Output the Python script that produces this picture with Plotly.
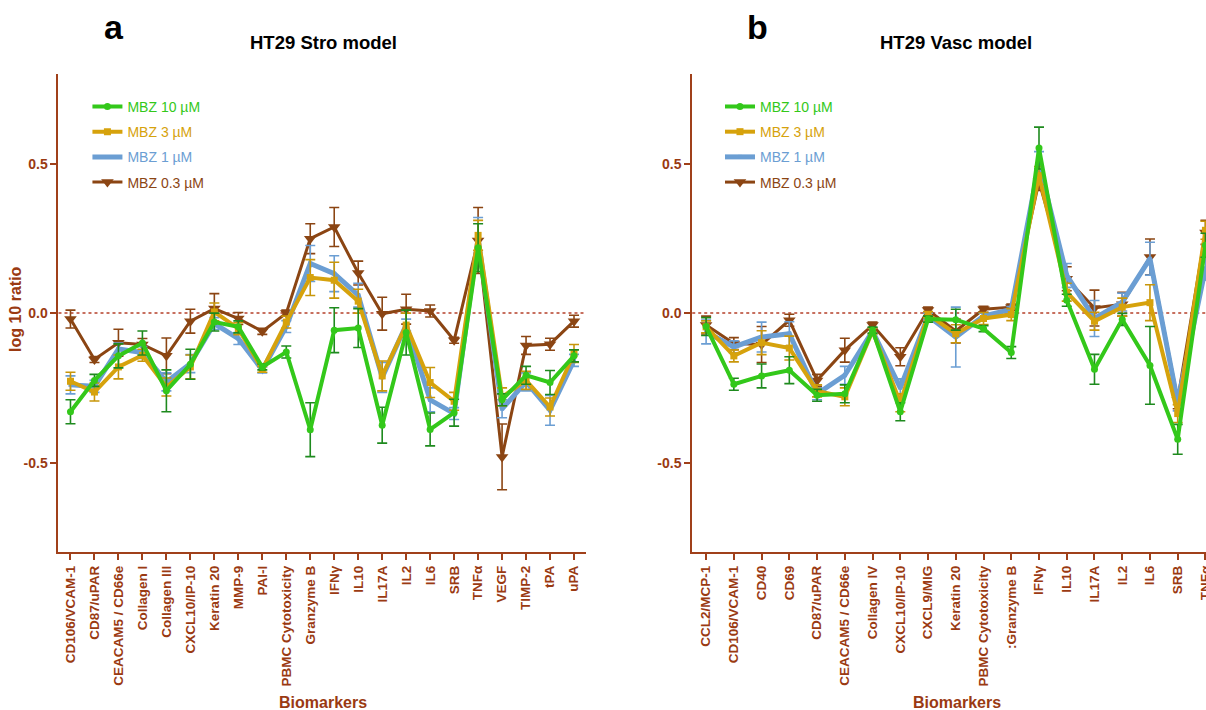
import plotly.graph_objects as go

# ---------------- data ----------------
stro_cats = ["CD106/VCAM-1", "CD87/uPAR", "CEACAM5 / CD66e", "Collagen I", "Collagen III",
             "CXCL10/IP-10", "Keratin 20", "MMP-9", "PAI-I", "PBMC Cytotoxicity", "Granzyme B",
             "IFNγ", "IL10", "IL17A", "IL2", "IL6", "SRB", "TNFα", "VEGF", "TIMP-2", "tPA", "uPA"]

stro_10 = [-0.33, -0.225, -0.143, -0.10, -0.26, -0.171, -0.03, -0.046, -0.18, -0.13, -0.39,
           -0.057, -0.05, -0.375, -0.065, -0.389, -0.333, 0.219, -0.29, -0.208, -0.232, -0.143]
stro_3 = [-0.228, -0.264, -0.18, -0.141, -0.247, -0.18, 0.004, -0.052, -0.188, -0.03, 0.119,
          0.11, 0.04, -0.21, -0.04, -0.232, -0.295, 0.26, -0.28, -0.225, -0.314, -0.135]
stro_1 = [-0.24, -0.245, -0.12, -0.132, -0.23, -0.169, -0.035, -0.085, -0.19, -0.045, 0.166,
          0.132, 0.06, -0.215, -0.04, -0.29, -0.336, 0.25, -0.32, -0.23, -0.325, -0.158]
stro_03 = [-0.02, -0.155, -0.099, -0.105, -0.143, -0.027, 0.015, -0.018, -0.061, 0.0, 0.249,
           0.288, 0.134, -0.002, 0.013, 0.007, -0.091, 0.243, -0.481, -0.108, -0.104, -0.027]

stro_10_err = [0.04, 0.02, 0.04, 0.04, 0.07, 0.05, 0.03, 0.02, 0.01, 0.02, 0.09,
               0.075, 0.065, 0.06, 0.075, 0.055, 0.045, 0.08, 0.02, 0.03, 0.04, 0.02]
stro_3_err = [0.03, 0.03, 0.04, 0.02, 0.03, 0.04, 0.03, 0.02, 0.01, 0.02, 0.06,
              0.06, 0.04, 0.05, 0.04, 0.05, 0.03, 0.05, 0.03, 0.03, 0.03, 0.03]
stro_1_err = [0.03, 0.02, 0.02, 0.02, 0.03, 0.03, 0.02, 0.02, 0.01, 0.02, 0.06,
              0.06, 0.04, 0.05, 0.02, 0.04, 0.02, 0.07, 0.03, 0.03, 0.05, 0.02]
stro_03_err = [0.03, 0.01, 0.045, 0.02, 0.06, 0.04, 0.05, 0.02, 0.01, 0.01, 0.05,
               0.065, 0.04, 0.055, 0.05, 0.02, 0.01, 0.11, 0.11, 0.03, 0.02, 0.02]

vasc_cats = ["CCL2/MCP-1", "CD106/VCAM-1", "CD40", "CD69", "CD87/uPAR", "CEACAM5 / CD66e",
             "Collagen IV", "CXCL10/IP-10", "CXCL9/MIG", "Keratin 20", "PBMC Cytotoxicity",
             ":Granzyme B", "IFNγ", "IL10", "IL17A", "IL2", "IL6", "SRB", "TNFα"]

vasc_10 = [-0.045, -0.238, -0.21, -0.191, -0.275, -0.27, -0.057, -0.33, -0.02, -0.022, -0.052,
           -0.132, 0.552, 0.043, -0.188, -0.021, -0.175, -0.422, 0.227]
vasc_3 = [-0.046, -0.143, -0.099, -0.117, -0.26, -0.28, -0.06, -0.30, -0.005, -0.069, -0.018,
          -0.005, 0.46, 0.07, -0.027, 0.02, 0.035, -0.336, 0.277]
vasc_1 = [-0.063, -0.113, -0.08, -0.069, -0.27, -0.208, -0.06, -0.25, -0.01, -0.08, -0.01,
          0.012, 0.50, 0.126, -0.018, 0.037, 0.182, -0.297, 0.15]
vasc_03 = [-0.04, -0.102, -0.105, -0.024, -0.225, -0.124, -0.04, -0.146, 0.01, -0.06, 0.013,
           0.02, 0.44, 0.115, 0.017, 0.03, 0.188, -0.29, 0.27]

vasc_10_err = [0.03, 0.02, 0.04, 0.045, 0.02, 0.03, 0.01, 0.03, 0.01, 0.035, 0.01,
               0.02, 0.07, 0.02, 0.05, 0.02, 0.13, 0.05, 0.04]
vasc_3_err = [0.02, 0.02, 0.04, 0.04, 0.02, 0.03, 0.01, 0.03, 0.01, 0.03, 0.02,
              0.02, 0.03, 0.03, 0.03, 0.03, 0.06, 0.03, 0.03]
vasc_1_err = [0.04, 0.02, 0.05, 0.04, 0.02, 0.03, 0.01, 0.03, 0.01, 0.1, 0.01,
              0.01, 0.04, 0.04, 0.06, 0.03, 0.055, 0.03, 0.04]
vasc_03_err = [0.03, 0.02, 0.06, 0.02, 0.02, 0.04, 0.01, 0.03, 0.01, 0.04, 0.01,
               0.01, 0.03, 0.04, 0.06, 0.04, 0.06, 0.03, 0.04]

series_names = ["MBZ 10 µM", "MBZ 3 µM", "MBZ 1 µM", "MBZ 0.3 µM"]
ytick_vals = [-0.5, 0.0, 0.5]
ytick_text = ["-0.5", "0.0", "0.5"]

# ---------------- styles ----------------
AX = "#A0401A"
TXT = "#9A3A12"
FONT = "Liberation Sans, Arial, sans-serif"
styles = {
    "MBZ 10 µM": dict(color="#33C81A", err="#1E8A1E", width=4, symbol="circle", size=7),
    "MBZ 3 µM": dict(color="#D6A20C", err="#C8960A", width=4, symbol="square", size=7),
    "MBZ 1 µM": dict(color="#6B9ED3", err="#6B9ED3", width=5, symbol="square", size=4),
    "MBZ 0.3 µM": dict(color="#8B4513", err="#8B4513", width=3, symbol="triangle-down", size=11),
}

fig = go.Figure()

panels = [
    ("x", "y", "legend", stro_cats,
     {"MBZ 10 µM": (stro_10, stro_10_err), "MBZ 3 µM": (stro_3, stro_3_err),
      "MBZ 1 µM": (stro_1, stro_1_err), "MBZ 0.3 µM": (stro_03, stro_03_err)}),
    ("x2", "y2", "legend2", vasc_cats,
     {"MBZ 10 µM": (vasc_10, vasc_10_err), "MBZ 3 µM": (vasc_3, vasc_3_err),
      "MBZ 1 µM": (vasc_1, vasc_1_err), "MBZ 0.3 µM": (vasc_03, vasc_03_err)}),
]

draw_order = ["MBZ 0.3 µM", "MBZ 1 µM", "MBZ 3 µM", "MBZ 10 µM"]
for xa, ya, lg, cats, data in panels:
    for name in draw_order:
        vals, errs = data[name]
        st = styles[name]
        fig.add_trace(go.Scatter(
            x=cats, y=vals, xaxis=xa, yaxis=ya, legend=lg,
            name=f"<span style='color:{st['color']}'>{name}</span>",
            legendgroup=name + lg,
            legendrank=series_names.index(name) + 1,
            mode="lines+markers",
            line=dict(color=st["color"], width=st["width"]),
            marker=dict(color=st["color"], symbol=st["symbol"], size=st["size"]),
            error_y=dict(type="data", array=errs, visible=True, color=st["err"],
                         thickness=1.6, width=5),
            cliponaxis=False,
        ))

ydom = [0.2221, 0.8959]
common_x = dict(type="category", showline=True, linecolor=AX, linewidth=2, ticks="outside",
                ticklen=6, tickwidth=2, tickcolor=AX, tickangle=-90, showgrid=False,
                zeroline=False, automargin=False, ticklabeloverflow="allow",
                tickfont=dict(family=FONT, size=13.5, color=TXT, weight="bold"))
common_y = dict(range=[-0.8, 0.8], showline=True, linecolor=AX, linewidth=2, ticks="outside",
                ticklen=6, tickwidth=2, tickcolor=AX, showgrid=False, zeroline=False,
                automargin=False,
                tickvals=ytick_vals, ticktext=ytick_text, domain=ydom,
                tickfont=dict(family=FONT, size=14, color=TXT, weight="bold"))

legend_common = dict(font=dict(family=FONT, size=14), bgcolor="rgba(0,0,0,0)",
                     tracegroupgap=4, itemwidth=30, yanchor="top", xanchor="left",
                     traceorder="grouped")

fig.update_layout(
    width=1206, height=710,
    margin=dict(l=0, r=0, t=0, b=0),
    paper_bgcolor="white", plot_bgcolor="white",
    xaxis=dict(common_x, domain=[0.0485, 0.4859], range=[-0.5, 21.5]),
    yaxis=dict(common_y, anchor="x"),
    xaxis2=dict(common_x, domain=[0.574, 1.0], range=[-0.5, 18.02], anchor="y2"),
    yaxis2=dict(common_y, anchor="x2"),
    legend=dict(legend_common, x=0.0725, y=0.872),
    legend2=dict(legend_common, x=0.597, y=0.872),
    showlegend=True,
)

# zero reference lines
for xr, yr in [("x domain", "y"), ("x2 domain", "y2")]:
    fig.add_shape(type="line", xref=xr, yref=yr, x0=0, x1=1, y0=0, y1=0,
                  line=dict(color="#B5402A", width=1.5, dash="dot"), layer="below")

W, H = 1206, 710
def ann(text, x, y, size, color, bold=True, angle=0):
    fig.add_annotation(text=f"<b>{text}</b>" if bold else text, x=x / W, y=1 - y / H,
                       xref="paper", yref="paper", showarrow=False, textangle=angle,
                       xanchor="center", yanchor="middle",
                       font=dict(family=FONT, size=size, color=color))

ann("a", 113.5, 27, 34, "black")
ann("b", 757, 27, 34, "black")
ann("HT29 Stro model", 323, 42, 18.5, "black")
ann("HT29 Vasc model", 956, 42, 18.5, "black")
ann("Biomarkers", 323, 702, 16, TXT)
ann("Biomarkers", 957, 702, 16, TXT)
ann("log 10 ratio", 15, 309, 16, TXT, angle=-90)

fig.write_html("out.html", config={"displayModeBar": False},
               post_script="document.body.style.margin='0';document.body.style.overflow='hidden';")
